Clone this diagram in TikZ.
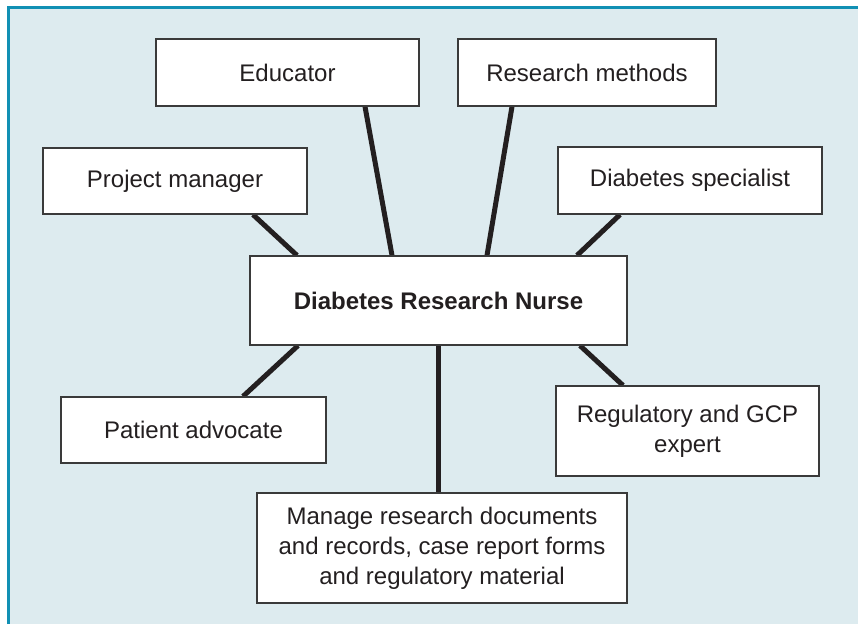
\documentclass[tikz,border=0pt]{standalone}
\usepackage{fontspec}
\setmainfont{Liberation Sans}
\usetikzlibrary{backgrounds}
\definecolor{bgblue}{HTML}{DDEBEF}
\definecolor{frameteal}{HTML}{1190B4}
\definecolor{inkc}{HTML}{231F20}
\definecolor{boxline}{HTML}{3A3A3A}
\tikzset{
  rolebox/.style={draw=boxline, line width=1.2pt, fill=white, text=inkc, align=center,
    inner sep=0pt, font=\fontsize{24}{30}\selectfont},
  link/.style={draw=inkc, line width=5pt}
}
\begin{document}
\begin{tikzpicture}[x=1pt,y=-1pt]
\useasboundingbox (0,0) rectangle (858,624);
% nodes
\node[rolebox, minimum width=263pt, minimum height=67pt] (edu) at (287.5,72.5) {Educator};
\node[rolebox, minimum width=258pt, minimum height=67pt] (rm) at (587,72.5) {Research methods};
\node[rolebox, minimum width=264pt, minimum height=66pt] (pm) at (175,181) {Project manager};
\node[rolebox, minimum width=264pt, minimum height=67pt] (ds) at (690,180.5) {Diabetes specialist};
\node[rolebox, minimum width=377pt, minimum height=89pt] (ctr) at (438.5,300.5) {\bfseries Diabetes Research Nurse};
\node[rolebox, minimum width=265pt, minimum height=66pt] (pa) at (193.5,430) {Patient advocate};
\node[rolebox, minimum width=263pt, minimum height=90pt] (reg) at (687.5,431) {Regulatory and GCP\\expert};
\node[rolebox, minimum width=370pt, minimum height=110pt] (man) at (442,548) {Manage research documents\\and records, case report forms\\and regulatory material};
\begin{scope}[on background layer]
  \fill[white] (0,0) rectangle (858,624);
  \fill[bgblue] (8,7.5) rectangle (858,624);
  \draw[frameteal, line width=3pt] (8,624) -- (8,7.5) -- (858,7.5);
  \draw[link] ([xshift=78pt]pm.south) -- ([xshift=-141.5pt]ctr.north);
  \draw[link] ([xshift=77.5pt]edu.south) -- ([xshift=-46.5pt]ctr.north);
  \draw[link] ([xshift=-75pt]rm.south) -- ([xshift=48.5pt]ctr.north);
  \draw[link] ([xshift=-70pt]ds.south) -- ([xshift=138.5pt]ctr.north);
  \draw[link] ([xshift=49.5pt]pa.north) -- ([xshift=-140.5pt]ctr.south);
  \draw[link] ([xshift=-64.5pt]reg.north) -- ([xshift=141.5pt]ctr.south);
  \draw[link] (ctr.south) -- ([xshift=-3.5pt]man.north);
\end{scope}
\end{tikzpicture}
\end{document}
